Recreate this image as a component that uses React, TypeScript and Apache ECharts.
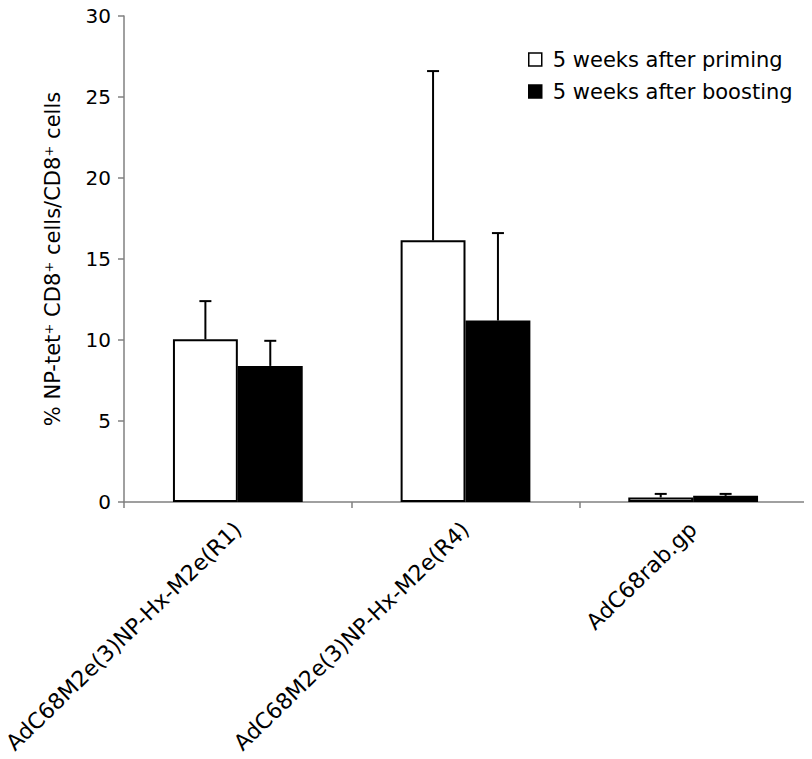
import React, { useEffect, useRef } from "react";
import * as echarts from "echarts";

const categories = [
  "AdC68M2e(3)NP-Hx-M2e(R1)",
  "AdC68M2e(3)NP-Hx-M2e(R4)",
  "AdC68rab.gp",
];
const primingMean = [10.05, 16.15, 0.28];
const primingUpper = [12.4, 26.6, 0.5];
const boostingMean = [8.4, 11.2, 0.38];
const boostingUpper = [9.95, 16.6, 0.5];
const yTicks = [0, 5, 10, 15, 20, 25, 30];

const FONT = "'DejaVu Sans', 'Liberation Sans', Arial, sans-serif";

function errorSeries(name: string, means: number[], uppers: number[], offset: number) {
  return {
    type: "custom",
    name: name + " error",
    z: 1,
    silent: true,
    data: means.map((m, i) => [i, m, uppers[i]]),
    encode: { x: 0, y: [1, 2] },
    renderItem: (params: any, api: any) => {
      const idx = api.value(0);
      const base = api.coord([idx, api.value(1)]);
      const top = api.coord([idx, api.value(2)]);
      const size = api.size([1, 0]);
      const x = base[0] + offset * size[0];
      const half = 6;
      return {
        type: "group",
        children: [
          {
            type: "line",
            shape: { x1: x, y1: base[1], x2: x, y2: top[1] },
            style: { stroke: "#000", lineWidth: 2 },
          },
          {
            type: "line",
            shape: { x1: x - half, y1: top[1], x2: x + half, y2: top[1] },
            style: { stroke: "#000", lineWidth: 2 },
          },
        ],
      };
    },
  };
}

export default function App() {
  const ref = useRef<HTMLDivElement>(null);
  useEffect(() => {
    if (!ref.current) return;
    const chart = echarts.init(ref.current, undefined, { renderer: "svg" });
    const barFrac = 0.285;
    chart.setOption({
      animation: false,
      backgroundColor: "#fff",
      textStyle: { fontFamily: FONT },
      grid: {
        left: 116,
        right: 5,
        top: 8,
        bottom: 257,
        containLabel: false,
        outerBoundsMode: "none",
      },
      legend: {
        orient: "vertical",
        left: 515,
        top: 36,
        itemWidth: 13,
        itemHeight: 13,
        itemGap: 11,
        icon: "rect",
        textStyle: { fontSize: 21, color: "#000", fontFamily: FONT, padding: [0, 0, 0, 6] },
        data: [
          { name: "5 weeks after priming", itemStyle: { color: "#fff", borderColor: "#000", borderWidth: 1.5 } },
          { name: "5 weeks after boosting", itemStyle: { color: "#000", borderColor: "#000", borderWidth: 1.5 } },
        ],
      },
      xAxis: {
        type: "category",
        data: categories,
        boundaryGap: true,
        axisLine: { lineStyle: { color: "#808080", width: 1.5 } },
        axisTick: { show: true, length: 6, lineStyle: { color: "#808080", width: 1.5 } },
        axisLabel: {
          rotate: 44,
          margin: 24,
          fontSize: 22,
          color: "#000",
          fontFamily: FONT,
          interval: 0,
        },
      },
      yAxis: {
        type: "value",
        min: yTicks[0],
        max: yTicks[yTicks.length - 1],
        interval: 5,
        splitLine: { show: false },
        axisLine: { show: true, lineStyle: { color: "#808080", width: 1.5 } },
        axisTick: { show: true, length: 6, lineStyle: { color: "#808080", width: 1.5 } },
        axisLabel: { fontSize: 20, color: "#000", margin: 13, fontFamily: FONT },
        name: "% NP-tet⁺ CD8⁺ cells/CD8⁺ cells",
        nameLocation: "middle",
        nameGap: 61,
        nameTextStyle: { fontSize: 21, color: "#000", fontFamily: FONT },
      },
      series: [
        {
          type: "bar",
          name: "5 weeks after priming",
          data: primingMean,
          barWidth: barFrac * 100 + "%",
          barGap: "0%",
          itemStyle: { color: "#fff", borderColor: "#000", borderWidth: 2 },
          z: 2,
        },
        {
          type: "bar",
          name: "5 weeks after boosting",
          data: boostingMean,
          barWidth: barFrac * 100 + "%",
          barGap: "0%",
          itemStyle: { color: "#000", borderColor: "#000", borderWidth: 2 },
          z: 2,
        },
        errorSeries("5 weeks after priming", primingMean, primingUpper, -barFrac / 2),
        errorSeries("5 weeks after boosting", boostingMean, boostingUpper, barFrac / 2),
      ],
    });
    return () => chart.dispose();
  }, []);
  return <div ref={ref} style={{ width: 804, height: 751 }} />;
}
